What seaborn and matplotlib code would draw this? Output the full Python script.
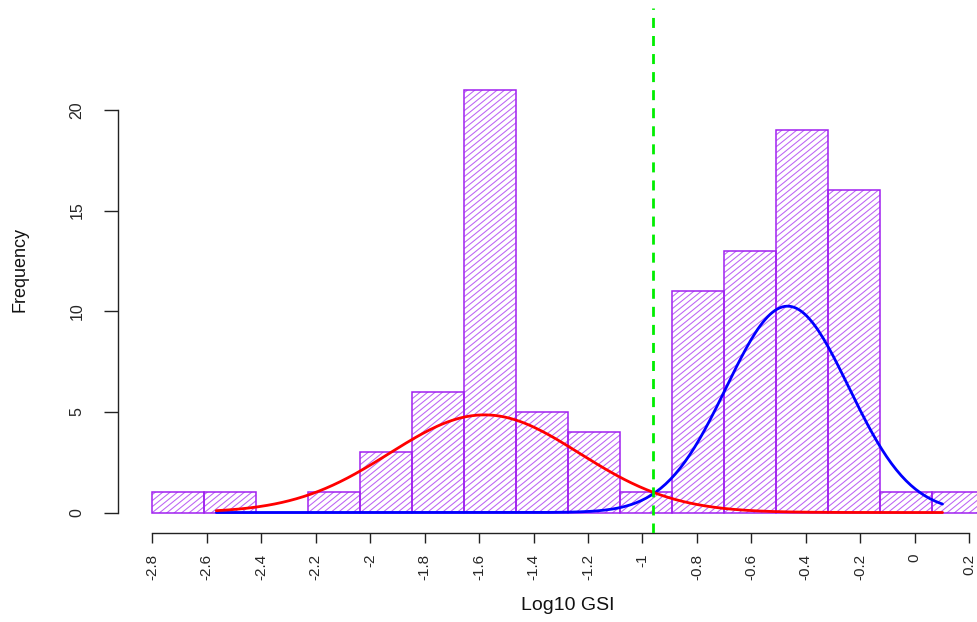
import numpy as np
import pandas as pd
import matplotlib
matplotlib.use("Agg")
import matplotlib.pyplot as plt
import seaborn as sns
from matplotlib.collections import LineCollection

# Histogram of log10 GSI: 16 equal-width bins starting at -2.80
bin_start = -2.80
bin_width = 0.191
counts = [1, 1, 0, 1, 3, 6, 21, 5, 4, 1, 11, 13, 19, 16, 1, 1]

# Fitted normal components: mean, sd and peak height (frequency units)
red_mean, red_sd, red_peak = -1.58, 0.349, 4.85
blue_mean, blue_sd, blue_peak = -0.467, 0.225, 10.25
curve_from, curve_to = -2.565, 0.102
cutoff = -0.962

x_ticks = [-2.8, -2.6, -2.4, -2.2, -2.0, -1.8, -1.6, -1.4, -1.2, -1.0,
           -0.8, -0.6, -0.4, -0.2, 0.0, 0.2]
x_tick_labels = ["-2.8", "-2.6", "-2.4", "-2.2", "-2", "-1.8", "-1.6", "-1.4",
                 "-1.2", "-1", "-0.8", "-0.6", "-0.4", "-0.2", "0", "0.2"]
y_ticks = [0, 5, 10, 15, 20]
y_tick_labels = ["0", "5", "10", "15", "20"]

PURPLE = "#A020F0"

sns.set_theme(style="white")
plt.rcParams["font.family"] = ["Liberation Sans", "DejaVu Sans"]

W, H = 977, 622
fig = plt.figure(figsize=(W / 100, H / 100), dpi=100)
fig.patch.set_facecolor("white")

# plot region in pixels (R-style layout with detached axes)
ax_left, ax_right, ax_top, ax_bottom = 118, 977, 8, 533
ax = fig.add_axes([ax_left / W, (H - ax_bottom) / H,
                   (ax_right - ax_left) / W, (ax_bottom - ax_top) / H])
ax.set_facecolor("white")

# pixel scale of the data axes
x0_px, px_per_x = 152.3, 272.3
y0_px, px_per_y = 512.5, 20.13
xlim = (x_ticks[0] - (x0_px - ax_left) / px_per_x,
        x_ticks[0] + (ax_right - x0_px) / px_per_x)
ylim = (-(ax_bottom - y0_px) / px_per_y, (y0_px - ax_top) / px_per_y)

edges = [bin_start + bin_width * i for i in range(len(counts) + 1)]
centers = [(a + b) / 2 for a, b in zip(edges[:-1], edges[1:])]
hist_df = pd.DataFrame({"gsi": centers, "n": counts})

sns.histplot(data=hist_df, x="gsi", weights="n", bins=edges, fill=False,
             element="bars", color=PURPLE, linewidth=1.1, ax=ax)

# diagonal shading inside each bar
angle = np.deg2rad(39)
slope = np.tan(angle) * px_per_x / px_per_y
spacing = 6.0 / px_per_y
for p in list(ax.patches):
    p.set_edgecolor(PURPLE)
    p.set_facecolor("none")
    p.set_linewidth(1.1)
    p.set_zorder(2)
    bx, bw, bh = p.get_x(), p.get_width(), p.get_height()
    if bh <= 0:
        continue
    segs = []
    for c in np.arange(-slope * bw, bh + spacing, spacing):
        segs.append([(bx, c), (bx + bw, c + slope * bw)])
    lc = LineCollection(segs, colors=PURPLE, linewidths=0.75, alpha=0.7,
                        zorder=1.5)
    ax.add_collection(lc)
    lc.set_clip_path(p)

# fitted component curves
xs = np.linspace(curve_from, curve_to, 300)
blue_y = blue_peak * np.exp(-0.5 * ((xs - blue_mean) / blue_sd) ** 2)
red_y = red_peak * np.exp(-0.5 * ((xs - red_mean) / red_sd) ** 2)
sns.lineplot(x=xs, y=blue_y, color="#0000FF", linewidth=2.0, ax=ax,
             zorder=3)
sns.lineplot(x=xs, y=red_y, color="#FF0000", linewidth=2.0, ax=ax,
             zorder=3.5)

# threshold line
ax.axvline(cutoff, color="#00EE00", linewidth=2.0, dashes=(3.6, 2.9),
           zorder=4)

ax.set_xlim(*xlim)
ax.set_ylim(*ylim)

# axes in R style
for s in ("top", "right"):
    ax.spines[s].set_visible(False)
ax.spines["bottom"].set_bounds(x_ticks[0], x_ticks[-1])
ax.spines["left"].set_bounds(y_ticks[0], y_ticks[-1])
for s in ("bottom", "left"):
    ax.spines[s].set_color("#222222")
    ax.spines[s].set_linewidth(1.0)

ax.set_xticks(x_ticks)
ax.set_xticklabels(x_tick_labels, rotation=90, ha="center", fontsize=11)
ax.set_yticks(y_ticks)
ax.set_yticklabels(y_tick_labels, rotation=90, va="center", fontsize=11.5)
ax.tick_params(axis="x", direction="out", length=7.2, width=1.0,
               color="#222222", pad=7.5, bottom=True)
ax.tick_params(axis="y", direction="out", length=10, width=1.0,
               color="#222222", pad=14, left=True)
ax.set_xlabel("")
ax.set_ylabel("")
ax.grid(False)

fig.text(568 / W, 1 - 606 / H, "Log10 GSI", ha="center", va="center",
         fontsize=14, color="#111111")
fig.text(20 / W, 1 - 270 / H, "Frequency", ha="center", va="center",
         rotation=90, fontsize=13, color="#111111")

fig.savefig("out.png", dpi=100, facecolor="white")
